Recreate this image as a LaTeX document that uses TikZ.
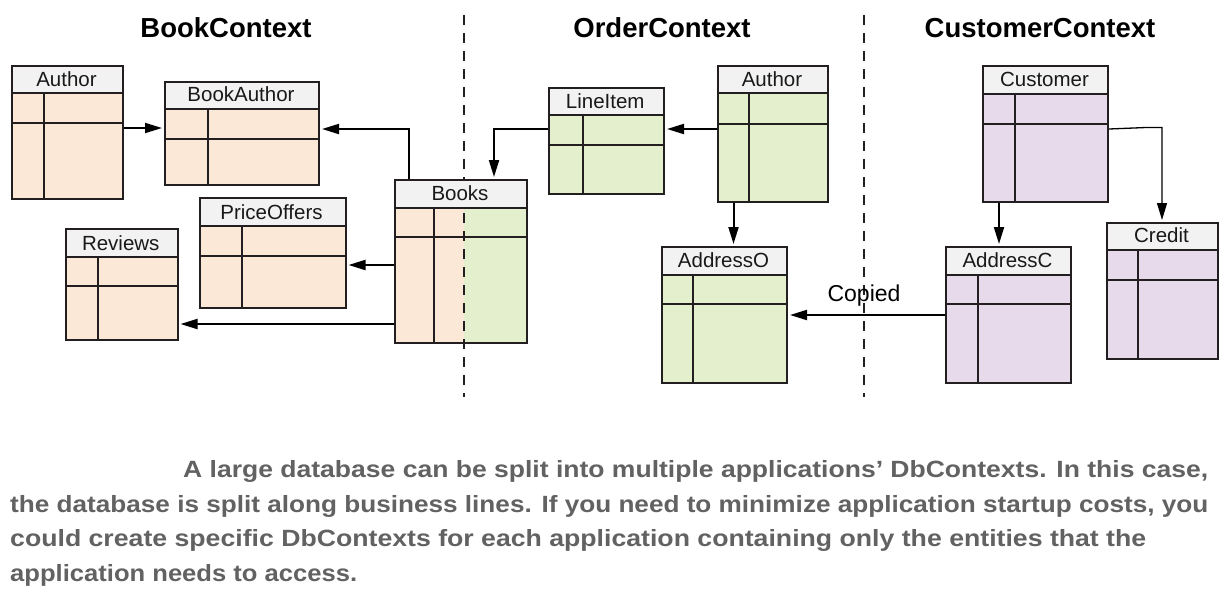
\documentclass[tikz,border=0pt]{standalone}
\usepackage{fontspec}
\setmainfont{Liberation Sans}
\usepackage{graphicx}
\usetikzlibrary{arrows.meta}
\definecolor{orangeF}{RGB}{251,232,214}
\definecolor{greenF}{RGB}{227,239,205}
\definecolor{purpleF}{RGB}{231,218,235}
\definecolor{headF}{RGB}{242,242,242}
\definecolor{edgeC}{RGB}{35,31,32}
\definecolor{captC}{RGB}{98,98,98}
\newcommand\dbtab[9]{%
  \path[tabfill] (#3,#7) rectangle (#5,#6);
  \fill[headF] (#3,#4) rectangle (#5,#7);
  \draw[tabline] (#3,#7) -- (#5,#7);
  \draw[tabline] (#3,#8) -- (#5,#8);
  \draw[tabline] (#9,#7) -- (#9,#6);
  \node[tabbox, minimum width={#5pt-#3pt}, minimum height={#6pt-#4pt}, anchor=north west] (#1) at (#3,#4) {};
  \node[headtxt, anchor=base] (#1-t) at ({(#3+#5)/2},{#7-7}) {#2};
}
\begin{document}
\begin{tikzpicture}[x=1pt,y=-1pt,
  tabline/.style={draw=edgeC, line width=2pt},
  tabbox/.style={draw=edgeC, line width=2pt, inner sep=0pt, rectangle},
  tabfill/.style={fill=orangeF},
  headtxt/.style={inner sep=0pt, font=\fontsize{20.5}{24}\selectfont, text=black!90},
  ctxtitle/.style={inner sep=0pt, font=\fontsize{27.5}{32}\selectfont\bfseries, text=black},
  arr/.style={draw=black, line width=2pt, -{Triangle[length=17pt,width=10pt]}, shorten >=2pt},
  thinarr/.style={draw=black, line width=1.3pt, -{Triangle[length=17pt,width=10pt]}, shorten >=2pt},
  divider/.style={draw=edgeC, line width=2pt, dash pattern=on 10pt off 8pt},
  capt/.style={inner sep=0pt, anchor=base west, text=captC, font=\fontsize{23.5}{27}\selectfont\bfseries},
  lbl/.style={inner sep=0pt, font=\fontsize{23}{27}\selectfont, text=black}
]
\useasboundingbox (0,0) rectangle (1228,595);
\fill[white] (0,0) rectangle (1228,595);

% titles
\node[ctxtitle, anchor=base] (tbook) at (226,37.3) {BookContext};
\node[ctxtitle, anchor=base] (torder) at (662,37.3) {OrderContext};
\node[ctxtitle, anchor=base] (tcust) at (1040,37.3) {CustomerContext};

% dividers
\coordinate (d1a) at (464,15);
\coordinate (d1b) at (464,397);
\coordinate (d2a) at (864,15);
\coordinate (d2b) at (864,397);
\draw[divider] (d1a) -- (d1b);
\draw[divider] (d2a) -- (d2b);

% BookContext tables
\dbtab{authB}{Author}{11}{65}{122}{198}{93.3}{123}{43.5}
\dbtab{bookauthor}{BookAuthor}{164}{81}{318}{184}{108.5}{138.5}{208}
\dbtab{priceoffers}{PriceOffers}{198.5}{197}{344.5}{306.5}{226}{256}{242}
\dbtab{reviews}{Reviews}{65}{228}{176.5}{339}{257}{286}{98}

% Books (split)
\fill[orangeF] (394,207.5) rectangle (464,342);
\fill[greenF] (464,207.5) rectangle (526,342);
\tikzset{tabfill/.style={}}
\dbtab{books}{Books}{394}{179}{526}{342}{207.5}{237}{434}
\begin{scope}
\clip (394,208.5) rectangle (526,342);
\draw[divider] (d1a) -- (d1b);
\end{scope}

% OrderContext tables
\tikzset{tabfill/.style={fill=greenF}}
\dbtab{lineitem}{LineItem}{547.5}{87}{663}{193}{115}{145}{583}
\dbtab{authO}{Author}{717}{65}{827}{201}{93}{123.5}{749}
\dbtab{addressO}{AddressO}{661}{246}{786}{382}{274.5}{303.5}{693}

% CustomerContext tables
\tikzset{tabfill/.style={fill=purpleF}}
\dbtab{customer}{Customer}{982}{65}{1107}{201}{93.5}{123.5}{1015}
\dbtab{addressC}{AddressC}{945}{246}{1070}{382}{274.5}{303.5}{978}
\dbtab{credit}{Credit}{1106}{222}{1217}{358}{249.5}{280}{1138}

% connectors
\draw[arr] (authB.east |- 0,128) -- (bookauthor.west |- 0,128);
\draw[arr] (books.north -| 409,0) |- (bookauthor.east |- 0,129);
\draw[arr] (books.west |- 0,265) -- (priceoffers.east |- 0,265);
\draw[arr] (books.west |- 0,324) -- (reviews.east |- 0,324);
\draw[arr] (lineitem.west |- 0,129) -| (books.north -| 494,0);
\draw[arr] (authO.west |- 0,129) -- (lineitem.east |- 0,129);
\draw[arr] (authO.south -| 733.5,0) -- (addressO.north -| 733.5,0);
\draw[arr] (addressC.west |- 0,315) -- (addressO.east |- 0,315);
\draw[arr] (customer.south -| 999,0) -- (addressC.north -| 999,0);
\draw[thinarr] (customer.east |- 0,129) -- (1146,127.5) -| (credit.north -| 1162,0);

\node[lbl, anchor=base] (copied) at (864,301.7) {Copied};

% caption
\node[capt] (cap1) at (183,477) {\resizebox{1025pt}{\height}{A large database can be split into multiple applications’ DbContexts. In this case,}};
\node[capt] (cap2) at (10,512) {\resizebox{1198pt}{\height}{the database is split along business lines. If you need to minimize application startup costs, you}};
\node[capt] (cap3) at (10,546) {\resizebox{1136pt}{\height}{could create specific DbContexts for each application containing only the entities that the}};
\node[capt] (cap4) at (10,581) {\resizebox{347pt}{\height}{application needs to access.}};
\end{tikzpicture}
\end{document}
